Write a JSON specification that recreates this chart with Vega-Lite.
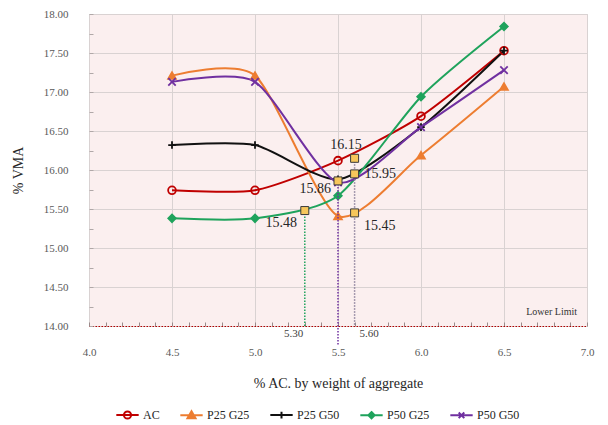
{
  "$schema": "https://vega.github.io/schema/vega-lite/v6.json",
  "width": 498,
  "height": 312,
  "autosize": {"type": "none"},
  "padding": {"left": 89, "top": 14, "right": 21, "bottom": 99},
  "background": "white",
  "config": {
    "font": "Liberation Serif",
    "view": {"fill": "#fbefef", "stroke": "#d6d0d0"}
  },
  "resolve": {"scale": {"color": "independent"}},
  "datasets": {
    "series": [
      {"s": "AC", "x": 4.5, "y": 15.74}, {"s": "AC", "x": 5.0, "y": 15.74}, {"s": "AC", "x": 5.5, "y": 16.12}, {"s": "AC", "x": 6.0, "y": 16.69}, {"s": "AC", "x": 6.5, "y": 17.53},
      {"s": "P25 G25", "x": 4.5, "y": 17.21}, {"s": "P25 G25", "x": 5.0, "y": 17.21}, {"s": "P25 G25", "x": 5.5, "y": 15.41}, {"s": "P25 G25", "x": 6.0, "y": 16.19}, {"s": "P25 G25", "x": 6.5, "y": 17.07},
      {"s": "P25 G50", "x": 4.5, "y": 16.32}, {"s": "P25 G50", "x": 5.0, "y": 16.32}, {"s": "P25 G50", "x": 5.5, "y": 15.88}, {"s": "P25 G50", "x": 6.0, "y": 16.55}, {"s": "P25 G50", "x": 6.5, "y": 17.53},
      {"s": "P50 G25", "x": 4.5, "y": 15.38}, {"s": "P50 G25", "x": 5.0, "y": 15.38}, {"s": "P50 G25", "x": 5.5, "y": 15.67}, {"s": "P50 G25", "x": 6.0, "y": 16.94}, {"s": "P50 G25", "x": 6.5, "y": 17.84},
      {"s": "P50 G50", "x": 4.5, "y": 17.13}, {"s": "P50 G50", "x": 5.0, "y": 17.13}, {"s": "P50 G50", "x": 5.5, "y": 15.84}, {"s": "P50 G50", "x": 6.0, "y": 16.55}, {"s": "P50 G50", "x": 6.5, "y": 17.28}
    ],
    "squares": [
      {"x": 5.3, "y": 15.48}, {"x": 5.5, "y": 15.86}, {"x": 5.6, "y": 16.15}, {"x": 5.6, "y": 15.95}, {"x": 5.6, "y": 15.45}
    ],
    "drops": [
      {"x": 5.3, "y": 15.48, "y2": 14.0, "c": "5.30"},
      {"x": 5.5, "y": 15.86, "y2": 13.75, "c": "5.50"},
      {"x": 5.6, "y": 16.15, "y2": 14.0, "c": "5.60"}
    ],
    "labels_center": [
      {"x": 5.548, "y": 16.32, "t": "16.15"}
    ],
    "labels_left": [
      {"x": 5.66, "y": 15.95, "t": "15.95"},
      {"x": 5.657, "y": 15.28, "t": "15.45"}
    ],
    "labels_right": [
      {"x": 5.458, "y": 15.76, "t": "15.86"},
      {"x": 5.253, "y": 15.32, "t": "15.48"}
    ],
    "xlabel_left": [
      {"x": 5.63, "y": 13.9, "t": "5.60"}
    ],
    "xlabel_right": [
      {"x": 5.29, "y": 13.9, "t": "5.30"}
    ],
    "notes": [
      {"x": 6.94, "y": 14.18, "t": "Lower Limit"}
    ]
  },
  "layer": [
    {
      "data": {"name": "series"},
      "mark": {"type": "line", "interpolate": "cardinal", "tension": 0.3, "strokeWidth": 2},
      "encoding": {
        "x": {
          "field": "x", "type": "quantitative",
          "scale": {"domain": [4, 7], "nice": false, "zero": false},
          "axis": {
            "values": [4.0, 4.1, 4.2, 4.3, 4.4, 4.5, 4.6, 4.7, 4.8, 4.9, 5.0, 5.1, 5.2, 5.3, 5.4, 5.5, 5.6, 5.7, 5.8, 5.9, 6.0, 6.1, 6.2, 6.3, 6.4, 6.5, 6.6, 6.7, 6.8, 6.9, 7.0],
            "tickCount": 100,
            "labelExpr": "abs(datum.value*2 - round(datum.value*2)) < 0.001 ? format(datum.value, '.1f') : ''",
            "labelOverlap": false,
            "labelFlush": false,
            "labelFontSize": 11,
            "labelColor": "#595959",
            "labelPadding": 24,
            "grid": true,
            "gridColor": "#d9d2d2",
            "gridOpacity": {"condition": {"test": "abs(datum.value*2 - round(datum.value*2)) < 0.001", "value": 1}, "value": 0},
            "tickSize": -4,
            "tickColor": "#9a8a8a",
            "domainColor": "#b00000",
            "domainDash": [1.5, 1.5],
            "title": "% AC. by weight of aggregate",
            "titleFontSize": 14,
            "titleFontWeight": "normal",
            "titleColor": "#262626",
            "titleY": 57,
            "titleBaseline": "middle"
          }
        },
        "y": {
          "field": "y", "type": "quantitative",
          "scale": {"domain": [14, 18], "nice": false, "zero": false},
          "axis": {
            "values": [14.0, 14.25, 14.5, 14.75, 15.0, 15.25, 15.5, 15.75, 16.0, 16.25, 16.5, 16.75, 17.0, 17.25, 17.5, 17.75, 18.0],
            "tickCount": 100,
            "labelExpr": "abs(datum.value*2 - round(datum.value*2)) < 0.001 ? format(datum.value, '.2f') : ''",
            "labelOverlap": false,
            "labelFlush": false,
            "labelFontSize": 11,
            "labelColor": "#595959",
            "labelPadding": 25,
            "grid": true,
            "gridColor": "#d9d2d2",
            "gridOpacity": {"condition": {"test": "abs(datum.value*2 - round(datum.value*2)) < 0.001", "value": 1}, "value": 0},
            "tickSize": -4,
            "tickColor": "#b0a8a8",
            "domain": false,
            "title": "% VMA",
            "titleFontSize": 14,
            "titleFontWeight": "normal",
            "titleColor": "#262626",
            "titleX": -71,
            "titleY": 156,
            "titleBaseline": "middle",
            "titleAlign": "center"
          }
        },
        "color": {
          "field": "s", "type": "nominal",
          "scale": {"domain": ["AC", "P25 G25", "P25 G50", "P50 G25", "P50 G50"], "range": ["#c00000", "#ed7d31", "#111111", "#1fa35c", "#7030a0"]},
          "legend": {
            "title": null,
            "orient": "none",
            "direction": "horizontal",
            "legendX": 26,
            "legendY": 388,
            "symbolSize": 500,
            "symbolStrokeWidth": 2,
            "labelFontSize": 12,
            "labelColor": "#262626",
            "labelOffset": 3,
            "columnPadding": 16,
            "encode": {
              "symbols": {
                "update": {
                  "shape": {"signal": "datum.value === 'AC' ? 'M-1,0L1,0M0.32,0A0.32,0.32,0,1,1,-0.32,0A0.32,0.32,0,1,1,0.32,0' : datum.value === 'P25 G25' ? 'M-1,0L1,0M0,-0.36L0.36,0.26L-0.36,0.26Z' : datum.value === 'P25 G50' ? 'M-1,0L1,0M0,-0.3L0,0.3' : datum.value === 'P50 G25' ? 'M-1,0L1,0M0,-0.28L0.28,0L0,0.28L-0.28,0Z' : 'M-1,0L1,0M-0.25,-0.25L0.25,0.25M-0.25,0.25L0.25,-0.25'"},
                  "fill": {"signal": "datum.value === 'P25 G25' ? '#ed7d31' : datum.value === 'P50 G25' ? '#1fa35c' : 'transparent'"}
                }
              }
            }
          }
        }
      }
    },
    {
      "data": {"name": "series"},
      "mark": {"type": "point", "strokeWidth": 1.8, "opacity": 1},
      "encoding": {
        "x": {"field": "x", "type": "quantitative"},
        "y": {"field": "y", "type": "quantitative"},
        "shape": {
          "field": "s", "type": "nominal",
          "scale": {"domain": ["AC", "P25 G25", "P25 G50", "P50 G25", "P50 G50"], "range": ["circle", "triangle-up", "M-1,0L1,0M0,-1L0,1", "diamond", "M-1,-1L1,1M-1,1L1,-1"]},
          "legend": null
        },
        "stroke": {
          "field": "s", "type": "nominal",
          "scale": {"domain": ["AC", "P25 G25", "P25 G50", "P50 G25", "P50 G50"], "range": ["#c00000", "#ed7d31", "#111111", "#1fa35c", "#7030a0"]},
          "legend": null
        },
        "fill": {
          "field": "s", "type": "nominal",
          "scale": {"domain": ["AC", "P25 G25", "P25 G50", "P50 G25", "P50 G50"], "range": ["transparent", "#ed7d31", "transparent", "#1fa35c", "transparent"]},
          "legend": null
        },
        "size": {
          "field": "s", "type": "nominal",
          "scale": {"domain": ["AC", "P25 G25", "P25 G50", "P50 G25", "P50 G50"], "range": [60, 55, 64, 40, 56]},
          "legend": null
        }
      }
    },
    {
      "data": {"name": "drops"},
      "mark": {"type": "rule", "strokeDash": [1.5, 1.5], "strokeWidth": 1.5},
      "encoding": {
        "x": {"field": "x", "type": "quantitative"},
        "y": {"field": "y", "type": "quantitative"},
        "y2": {"field": "y2"},
        "color": {
          "field": "c", "type": "nominal",
          "scale": {"domain": ["5.30", "5.50", "5.60"], "range": ["#1fa35c", "#7030a0", "#8a7f9a"]},
          "legend": null
        }
      }
    },
    {
      "data": {"name": "squares"},
      "mark": {"type": "point", "shape": "square", "size": 64, "filled": true, "fill": "#f6c65b", "stroke": "#3a3a3a", "strokeWidth": 1, "opacity": 1},
      "encoding": {
        "x": {"field": "x", "type": "quantitative"},
        "y": {"field": "y", "type": "quantitative"}
      }
    },
    {
      "data": {"name": "labels_center"},
      "mark": {"type": "text", "fontSize": 14, "color": "#262626", "baseline": "middle", "align": "center"},
      "encoding": {
        "x": {"field": "x", "type": "quantitative"},
        "y": {"field": "y", "type": "quantitative"},
        "text": {"field": "t"}
      }
    },
    {
      "data": {"name": "labels_left"},
      "mark": {"type": "text", "fontSize": 14, "color": "#262626", "baseline": "middle", "align": "left"},
      "encoding": {
        "x": {"field": "x", "type": "quantitative"},
        "y": {"field": "y", "type": "quantitative"},
        "text": {"field": "t"}
      }
    },
    {
      "data": {"name": "labels_right"},
      "mark": {"type": "text", "fontSize": 14, "color": "#262626", "baseline": "middle", "align": "right"},
      "encoding": {
        "x": {"field": "x", "type": "quantitative"},
        "y": {"field": "y", "type": "quantitative"},
        "text": {"field": "t"}
      }
    },
    {
      "data": {"name": "xlabel_left"},
      "mark": {"type": "text", "fontSize": 11, "color": "#404040", "baseline": "middle", "align": "left"},
      "encoding": {
        "x": {"field": "x", "type": "quantitative"},
        "y": {"field": "y", "type": "quantitative"},
        "text": {"field": "t"}
      }
    },
    {
      "data": {"name": "xlabel_right"},
      "mark": {"type": "text", "fontSize": 11, "color": "#404040", "baseline": "middle", "align": "right"},
      "encoding": {
        "x": {"field": "x", "type": "quantitative"},
        "y": {"field": "y", "type": "quantitative"},
        "text": {"field": "t"}
      }
    },
    {
      "data": {"name": "notes"},
      "mark": {"type": "text", "fontSize": 10, "color": "#333333", "baseline": "middle", "align": "right"},
      "encoding": {
        "x": {"field": "x", "type": "quantitative"},
        "y": {"field": "y", "type": "quantitative"},
        "text": {"field": "t"}
      }
    }
  ]
}
